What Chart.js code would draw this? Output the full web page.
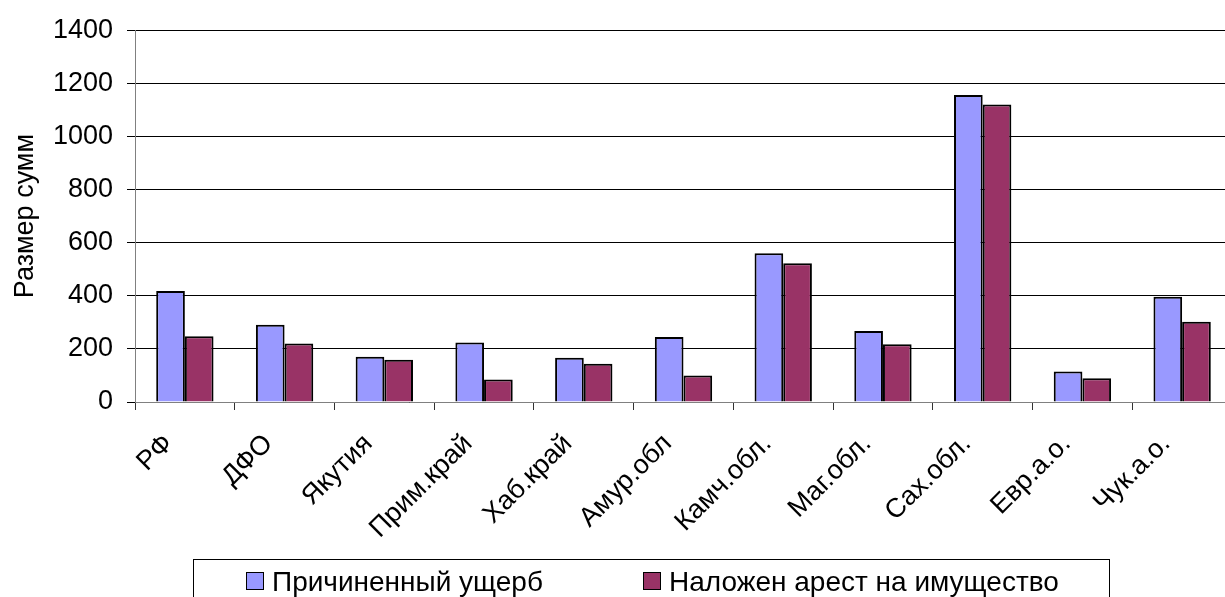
<!DOCTYPE html>
<html>
<head>
<meta charset="utf-8">
<script src="https://cdn.jsdelivr.net/npm/chart.js@4.4.1/dist/chart.umd.min.js"></script>
<style>
  html, body { margin: 0; padding: 0; background: #fff; overflow: hidden; }
  #wrap { width: 1240px; height: 597px; position: relative; }
</style>
</head>
<body>
<div id="wrap"><canvas id="chart"></canvas></div>
<script>
// Data
const regions = ['РФ', 'ДФО', 'Якутия', 'Прим.край', 'Хаб.край', 'Амур.обл', 'Камч.обл.', 'Маг.обл.', 'Сах.обл.', 'Евр.а.о.', 'Чук.а.о.'];
const damage = [418, 291, 170, 224, 167, 245, 560, 267, 1156, 115, 396];
const arrest = [248, 220, 159, 85, 144, 100, 522, 217, 1120, 89, 302];
const seriesNames = ['Причиненный ущерб', 'Наложен арест на имущество'];
const yTitle = 'Размер сумм';

const FONT = "'Liberation Sans', Arial, sans-serif";

// Legend drawn as a boxed strip under the axis labels, like the original
const boxLegend = {
    id: 'boxLegend',
    afterDraw(chart) {
        const ctx = chart.ctx;
        const itemX = [246, 643];
        ctx.save();
        ctx.strokeStyle = '#000';
        ctx.lineWidth = 1;
        ctx.strokeRect(193.5, 559.5, 916, 60);
        ctx.font = '28px ' + FONT;
        ctx.textBaseline = 'alphabetic';
        chart.data.datasets.forEach((ds, i) => {
            ctx.fillStyle = ds.backgroundColor;
            ctx.fillRect(itemX[i], 572, 18, 18);
            ctx.strokeRect(itemX[i] + 0.5, 572.5, 17, 17);
            ctx.fillStyle = '#000';
            ctx.fillText(ds.label, itemX[i] + 26, 591);
        });
        ctx.restore();
    }
};

const ctx = document.getElementById('chart').getContext('2d');
new Chart(ctx, {
    type: 'bar',
    data: {
        labels: regions,
        datasets: [
            {
                label: seriesNames[0],
                data: damage,
                backgroundColor: '#9999FF',
                borderColor: '#000',
                borderWidth: 2,
                categoryPercentage: 0.575,
                barPercentage: 1
            },
            {
                label: seriesNames[1],
                data: arrest,
                backgroundColor: '#993366',
                borderColor: '#000',
                borderWidth: 2,
                categoryPercentage: 0.575,
                barPercentage: 1
            }
        ]
    },
    options: {
        responsive: true,
        maintainAspectRatio: false,
        animation: false,
        layout: { padding: { top: 27, right: 8, left: 0, bottom: 0 } },
        plugins: {
            legend: { display: false },
            tooltip: { enabled: false }
        },
        scales: {
            x: {
                offset: true,
                grid: {
                    offset: true,
                    drawOnChartArea: false,
                    color: '#333',
                    tickLength: 8
                },
                border: { color: '#808080', width: 1 },
                ticks: {
                    color: '#000',
                    font: { family: FONT, size: 27 },
                    minRotation: 45,
                    maxRotation: 45,
                    autoSkip: false,
                    labelOffset: -16,
                    padding: 18
                },
                afterFit: s => { s.height = 195; }
            },
            y: {
                min: 0,
                max: 1400,
                ticks: {
                    stepSize: 200,
                    color: '#000',
                    font: { family: FONT, size: 27 },
                    padding: 14,
                    callback: v => String(v)
                },
                grid: { color: '#000', lineWidth: 1, tickLength: 8 },
                border: { color: '#808080', width: 1 },
                title: {
                    display: true,
                    text: yTitle,
                    color: '#000',
                    font: { family: FONT, size: 27 },
                    padding: { top: 9, bottom: 0 }
                },
                afterFit: s => { s.width = 135; }
            }
        }
    },
    plugins: [boxLegend]
});
</script>
</body>
</html>
